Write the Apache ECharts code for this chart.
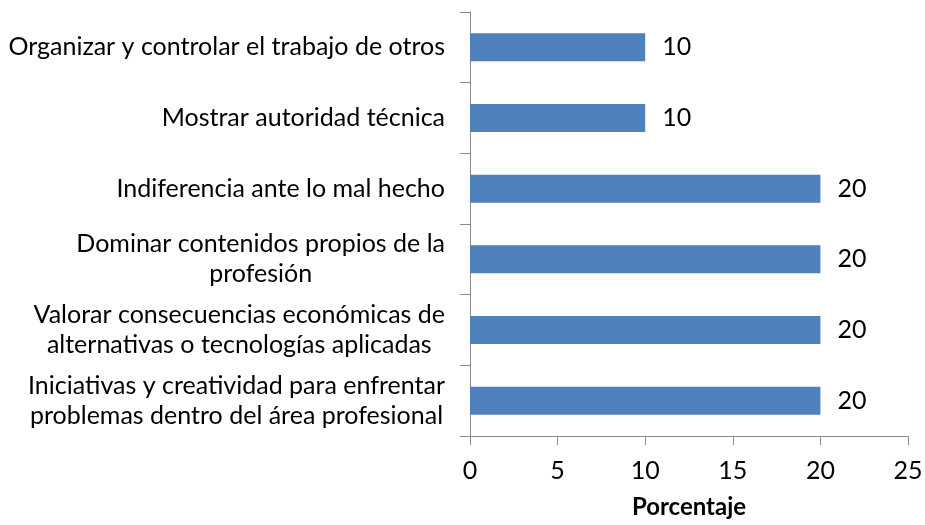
<!DOCTYPE html>
<html>
<head>
<meta charset="utf-8">
<script src="https://cdn.jsdelivr.net/npm/echarts@6/dist/echarts.min.js"></script>
<style>
  html, body { margin: 0; padding: 0; background: #fff; }
  #chart { width: 925px; height: 525px; }
</style>
</head>
<body>
<div id="chart"></div>
<script>
const categories = [
  "Organizar y controlar el trabajo de otros",
  "Mostrar autoridad técnica",
  "Indiferencia ante lo mal hecho",
  "Dominar contenidos propios de la\nprofesión",
  "Valorar consecuencias económicas de\nalternativas o tecnologías aplicadas",
  "Iniciativas y creatividad para enfrentar\nproblemas dentro del área profesional"
];
const values = [10, 10, 20, 20, 20, 20];
const xTicks = [0, 5, 10, 15, 20, 25];

const font = "Lato";
const fontSize = 25;
const axisColor = "#8a8a8a";

const chart = echarts.init(document.getElementById("chart"));

chart.setOption({
  animation: false,
  grid: {
    left: 470,
    right: 17,
    top: 12,
    bottom: 89,
    containLabel: false,
    outerBoundsMode: "none"
  },
  xAxis: {
    type: "value",
    min: xTicks[0],
    max: xTicks[xTicks.length - 1],
    interval: 5,
    name: "Porcentaje",
    nameLocation: "middle",
    nameGap: 59,
    nameTextStyle: {
      fontFamily: font,
      fontWeight: "bold",
      fontSize: 24,
      color: "#000"
    },
    axisLine: { show: true, lineStyle: { color: axisColor } },
    axisTick: { show: true, length: 9, lineStyle: { color: axisColor } },
    splitLine: { show: false },
    axisLabel: {
      fontFamily: font,
      fontSize: fontSize,
      color: "#000",
      margin: 22
    }
  },
  yAxis: {
    type: "category",
    inverse: true,
    data: categories,
    axisLine: { show: true, lineStyle: { color: axisColor } },
    axisTick: { show: true, length: 10, lineStyle: { color: axisColor } },
    axisLabel: {
      margin: 25,
      align: "right",
      // lines of a two-line label are centred on each other
      formatter: (v) => v.split("\n").map((s) => "{c|" + s + "}").join("\n"),
      rich: {
        c: {
          fontFamily: font,
          fontSize: fontSize,
          color: "#000",
          lineHeight: 30,
          align: "center"
        }
      }
    }
  },
  series: [
    {
      type: "bar",
      data: values,
      barWidth: 28,
      itemStyle: { color: "#4F81BD" },
      label: {
        show: true,
        position: "right",
        distance: 17,
        fontFamily: font,
        fontSize: fontSize,
        color: "#000"
      }
    }
  ]
});
</script>
</body>
</html>
